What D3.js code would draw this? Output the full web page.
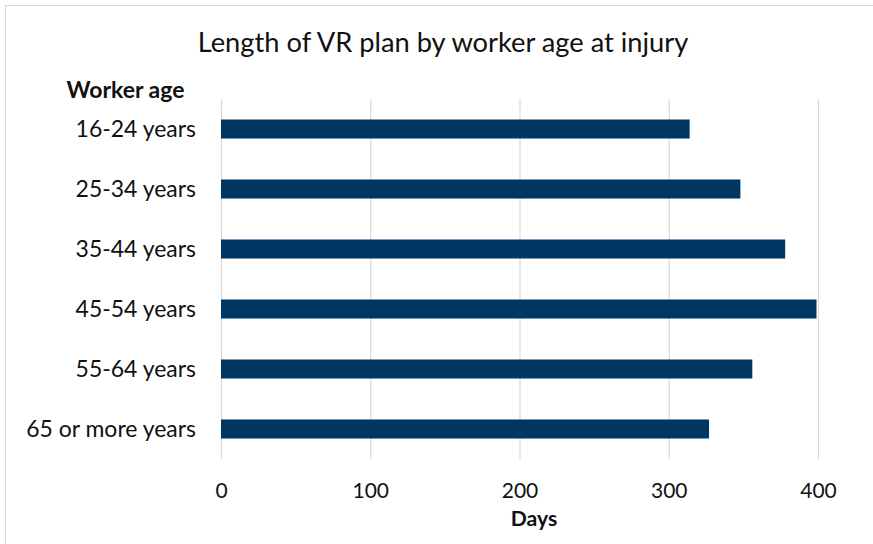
<!DOCTYPE html>
<html>
<head>
<meta charset="utf-8">
<script src="https://cdn.jsdelivr.net/npm/d3@7"></script>
<style>
  html, body { margin: 0; padding: 0; background: #fff; }
  svg { display: block; }
  text { font-family: Lato, "Open Sans", sans-serif; fill: #111; }
</style>
</head>
<body>
<svg id="chart" width="873" height="544"></svg>
<script>
// ---- data ----
const categories = ["16-24 years", "25-34 years", "35-44 years", "45-54 years", "55-64 years", "65 or more years"];
const days = [314, 348, 378, 399, 356, 327];
const xTicks = [0, 100, 200, 300, 400];
const chartTitle = "Length of VR plan by worker age at injury";
const yTitle = "Worker age";
const xTitle = "Days";

const W = 873, H = 544;
const svg = d3.select("#chart");

// helper: font size that makes text reach target width
function fitSize(str, target, weight) {
  const t = svg.append("text").attr("font-size", 100).attr("font-weight", weight || "normal").text(str);
  const w = t.node().getComputedTextLength();
  t.remove();
  return 100 * target / w;
}

// outer border
svg.append("rect")
  .attr("x", 5.5).attr("y", 5.5)
  .attr("width", W + 10).attr("height", H + 10)
  .attr("fill", "none").attr("stroke", "#d9d9d9").attr("stroke-width", 1);

const x = d3.scaleLinear().domain([0, 400]).range([221, 818]);
const y = d3.scaleBand().domain(categories).range([99, 459])
  .paddingInner(0.683).paddingOuter(0.3417);

// gridlines + x tick labels via axis
const tickSize = fitSize("400", 36.5);
const xAxis = svg.append("g")
  .attr("transform", "translate(0,459)")
  .call(d3.axisBottom(x).tickValues(xTicks).tickFormat(d3.format("d")).tickSize(-360).tickPadding(0));
xAxis.select(".domain").remove();
xAxis.selectAll(".tick line").attr("stroke", "#d9d9d9").attr("stroke-width", 1.2);
xAxis.selectAll(".tick text")
  .attr("y", 39).attr("dy", 0)
  .attr("font-size", tickSize)
  .attr("font-family", "Lato, sans-serif")
  .attr("fill", "#111");

// bars
svg.append("g").selectAll("rect")
  .data(categories)
  .join("rect")
  .attr("x", x(0))
  .attr("y", d => y(d))
  .attr("width", (d, i) => x(days[i]) - x(0))
  .attr("height", y.bandwidth())
  .attr("fill", "#003662");

// category labels via axis
const catSize = fitSize("65 or more years", 170);
const yAxis = svg.append("g")
  .attr("transform", "translate(221,0)")
  .call(d3.axisLeft(y).tickSize(0).tickPadding(25));
yAxis.select(".domain").remove();
yAxis.selectAll(".tick text")
  .attr("font-size", catSize)
  .attr("font-family", "Lato, sans-serif")
  .attr("fill", "#111")
  .attr("dy", "0.36em");

// title
svg.append("text")
  .attr("x", 443).attr("y", 52)
  .attr("text-anchor", "middle")
  .attr("font-size", fitSize(chartTitle, 491))
  .text(chartTitle);

// y axis title
svg.append("text")
  .attr("x", 66.5).attr("y", 97.5)
  .attr("font-weight", "bold")
  .attr("font-size", fitSize(yTitle, 118, "bold"))
  .text(yTitle);

// x axis title
svg.append("text")
  .attr("x", 534).attr("y", 526)
  .attr("text-anchor", "middle")
  .attr("font-weight", "bold")
  .attr("font-size", fitSize(xTitle, 46.5, "bold"))
  .text(xTitle);
</script>
</body>
</html>
